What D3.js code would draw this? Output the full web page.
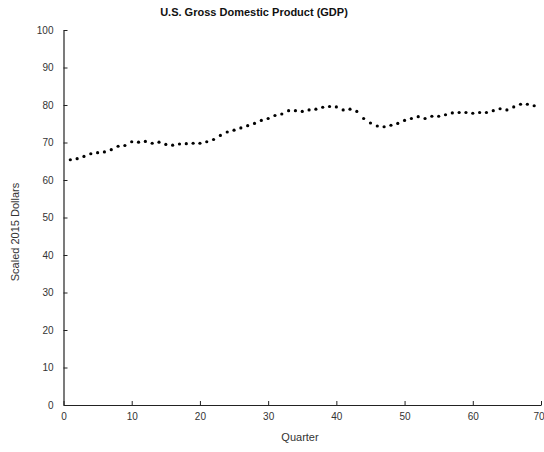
<!DOCTYPE html>
<html>
<head>
<meta charset="utf-8">
<script src="https://cdn.jsdelivr.net/npm/d3@7"></script>
<style>
  html, body { margin: 0; padding: 0; background: #fff; }
  svg { display: block; font-family: "Liberation Sans", Arial, sans-serif; }
</style>
</head>
<body>
<svg id="chart" width="544" height="452"></svg>
<script>
// Quarterly GDP, scaled 2015 dollars
const quarters = d3.range(1, 70);
const gdp = [
  65.4, 65.7, 66.3, 67.0, 67.3, 67.5, 68.1, 69.0, 69.2, 70.2,
  70.1, 70.3, 69.8, 70.1, 69.5, 69.3, 69.6, 69.7, 69.8, 69.8,
  70.2, 70.8, 71.9, 72.8, 73.3, 73.9, 74.5, 75.1, 75.9, 76.4,
  77.2, 77.6, 78.5, 78.5, 78.3, 78.7, 78.9, 79.4, 79.6, 79.5,
  78.7, 78.9, 78.3, 76.4, 75.2, 74.4, 74.2, 74.6, 75.1, 75.9,
  76.4, 76.9, 76.4, 77.0, 77.0, 77.4, 77.9, 78.0, 78.0, 77.8,
  78.0, 78.0, 78.5, 79.0, 78.7, 79.5, 80.2, 80.2, 79.8
];
const xTicks = [0, 10, 20, 30, 40, 50, 60, 70];
const yTicks = [0, 10, 20, 30, 40, 50, 60, 70, 80, 90, 100];

const svg = d3.select("#chart");
const margin = { top: 30, right: 3, bottom: 47, left: 63.5 };
const W = 544, H = 452;

const x = d3.scaleLinear().domain([0, 70]).range([margin.left, W - margin.right]);
const y = d3.scaleLinear().domain([0, 100]).range([H - margin.bottom, margin.top]);

const axisColor = "#222";

// x axis with inward ticks
const gx = svg.append("g")
  .attr("transform", `translate(0,${H - margin.bottom})`)
  .call(d3.axisBottom(x).tickValues(xTicks).tickSizeInner(-4).tickSizeOuter(0).tickPadding(8));

// keep the last x label inside the drawing area
gx.selectAll(".tick text").filter(d => d === 70)
  .attr("text-anchor", "end").attr("dx", 3);

// y axis with inward ticks
const gy = svg.append("g")
  .attr("transform", `translate(${margin.left},0)`)
  .call(d3.axisLeft(y).tickValues(yTicks).tickSizeInner(-4).tickSizeOuter(0).tickPadding(10));

[gx, gy].forEach(g => {
  g.select(".domain").attr("stroke", axisColor).attr("stroke-width", 1.2);
  g.selectAll(".tick line").attr("stroke", axisColor);
  g.selectAll(".tick text").attr("fill", "#333").style("font-size", "10px")
    .style("font-family", "'Liberation Sans', Arial, sans-serif");
});

// data points
svg.append("g")
  .selectAll("circle")
  .data(quarters.map((q, i) => ({ q, v: gdp[i] })))
  .join("circle")
  .attr("cx", d => x(d.q))
  .attr("cy", d => y(d.v))
  .attr("r", 1.6)
  .attr("fill", "#000");

// title
svg.append("text")
  .attr("x", 254)
  .attr("y", 16)
  .attr("text-anchor", "middle")
  .style("font-size", "11px")
  .style("font-weight", "bold")
  .attr("fill", "#111")
  .text("U.S. Gross Domestic Product (GDP)");

// axis titles
svg.append("text")
  .attr("x", 300)
  .attr("y", 441)
  .attr("text-anchor", "middle")
  .style("font-size", "11px")
  .attr("fill", "#333")
  .text("Quarter");

svg.append("text")
  .attr("transform", "translate(19,232) rotate(-90)")
  .attr("text-anchor", "middle")
  .style("font-size", "11px")
  .attr("fill", "#333")
  .text("Scaled 2015 Dollars");
</script>
</body>
</html>
